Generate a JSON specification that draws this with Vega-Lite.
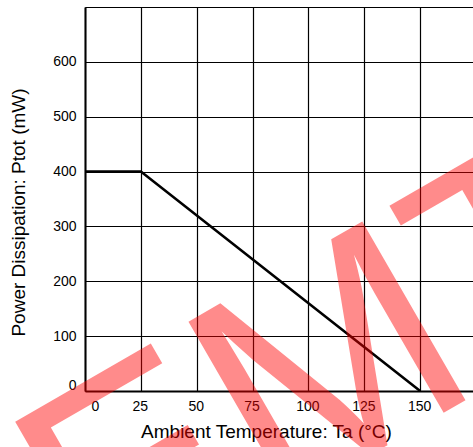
{
  "$schema": "https://vega.github.io/schema/vega-lite/v6.json",
  "width": 388,
  "height": 384,
  "autosize": "none",
  "padding": {"left": 85, "top": 7, "right": 0, "bottom": 56},
  "background": "white",
  "config": {"view": {"stroke": null}, "font": "Liberation Sans"},
  "layer": [
    {
      "data": {"values": [
        {"ta": 0, "ptot": 400},
        {"ta": 25, "ptot": 400},
        {"ta": 150, "ptot": 0}
      ]},
      "mark": {"type": "line", "color": "black", "strokeWidth": 2.6},
      "encoding": {
        "x": {
          "field": "ta", "type": "quantitative",
          "scale": {"domain": [0, 173.65], "nice": false, "zero": false},
          "axis": {
            "values": [0, 25, 50, 75, 100, 125, 150],
            "title": "Ambient Temperature: Ta (°C)",
            "grid": true, "gridColor": "black", "gridOpacity": 1, "gridWidth": 1.2,
            "domainColor": "black", "domainWidth": 2,
            "ticks": false, "tickSize": 0,
            "labelFontSize": 14, "labelColor": "black", "labelBaseline": "alphabetic",
            "labelPadding": 19,
            "labelOffset": {"condition": {"test": "datum.value == 0", "value": 6}, "value": -1},
            "titleFontSize": 19, "titleFontWeight": "normal", "titleColor": "black",
            "titleX": 181, "titleY": 46, "titleBaseline": "alphabetic", "titleAlign": "center"
          }
        },
        "y": {
          "field": "ptot", "type": "quantitative",
          "scale": {"domain": [0, 700], "nice": false},
          "axis": {
            "values": [0, 100, 200, 300, 400, 500, 600, 700],
            "labelExpr": "datum.value == 700 ? '' : datum.label",
            "title": "Power Dissipation: Ptot (mW)",
            "grid": true, "gridColor": "black", "gridOpacity": 1, "gridWidth": 1.2,
            "domainColor": "black", "domainWidth": 2,
            "ticks": false, "tickSize": 0,
            "labelFontSize": 14, "labelColor": "black", "labelBaseline": "middle",
            "labelPadding": 9,
            "labelOffset": {"condition": {"test": "datum.value == 0", "value": -6}, "value": 0},
            "titleFontSize": 19, "titleFontWeight": "normal", "titleColor": "black",
            "titleAngle": 270, "titleX": -61, "titleY": 205,
            "titleBaseline": "alphabetic", "titleAlign": "center"
          }
        }
      }
    },
    {
      "data": {"values": [{"word": "SEMTECH"}]},
      "mark": {
        "type": "text", "font": "Liberation Sans", "fontSize": 300,
        "angle": 330, "align": "center", "baseline": "alphabetic",
        "color": "red", "opacity": 0.45
      },
      "encoding": {
        "text": {"field": "word"},
        "x": {"datum": 212.1, "type": "quantitative"},
        "y": {"datum": 81.7, "type": "quantitative"}
      }
    }
  ]
}
